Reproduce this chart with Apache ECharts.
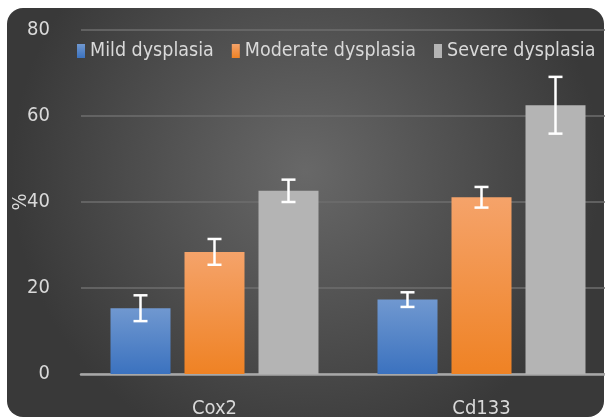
<!DOCTYPE html>
<html>
<head>
<meta charset="utf-8">
<script src="https://cdn.jsdelivr.net/npm/echarts@6/dist/echarts.min.js"></script>
<style>
  html, body { margin: 0; padding: 0; background: #fff; }
  #chart { width: 605px; height: 419px; }
</style>
</head>
<body>
<div id="chart"></div>
<script>
const categories = ['Cox2', 'Cd133']
const seriesNames = ['Mild dysplasia', 'Moderate dysplasia', 'Severe dysplasia']
const mildValues = [15.3, 17.3]
const moderateValues = [28.4, 41.1]
const severeValues = [42.6, 62.5]
const mildErrors = [3.0, 1.7]
const moderateErrors = [3.0, 2.4]
const severeErrors = [2.6, 6.6]
const yTicks = [0, 20, 40, 60, 80]

const FONT = "'Liberation Sans Narrow', 'DejaVu Sans Condensed', 'Open Sans', sans-serif"
const BAR_W = 60
const BAR_GAP = 14

const chart = echarts.init(document.getElementById('chart'))

function vgrad(top, bottom) {
  return new echarts.graphic.LinearGradient(0, 0, 0, 1, [
    { offset: 0, color: top },
    { offset: 1, color: bottom },
  ])
}

function errorSeries(values, errors, idx) {
  return {
    type: 'custom',
    z: 10,
    silent: true,
    data: values.map((v, i) => [i, v - errors[i], v + errors[i]]),
    renderItem(params, api) {
      const off = (idx - 1) * (BAR_W + BAR_GAP)
      const lo = api.coord([api.value(0), api.value(1)])
      const hi = api.coord([api.value(0), api.value(2)])
      const x = lo[0] + off
      const cap = 7
      const style = { stroke: '#ffffff', lineWidth: 2.5 }
      return {
        type: 'group',
        children: [
          { type: 'line', shape: { x1: x, y1: lo[1], x2: x, y2: hi[1] }, style },
          { type: 'line', shape: { x1: x - cap, y1: lo[1], x2: x + cap, y2: lo[1] }, style },
          { type: 'line', shape: { x1: x - cap, y1: hi[1], x2: x + cap, y2: hi[1] }, style },
        ],
      }
    },
  }
}

chart.setOption({
  backgroundColor: '#ffffff',
  animation: false,
  textStyle: { fontFamily: FONT },
  graphic: [
    {
      type: 'rect',
      z: -10,
      shape: { x: 7, y: 8, width: 597, height: 409, r: 16 },
      style: {
        fill: new echarts.graphic.RadialGradient(0.5, 0.4, 0.72, [
          { offset: 0, color: '#686868' },
          { offset: 1, color: '#393939' },
        ]),
      },
    },
  ],
  legend: {
    top: 36,
    left: 72,
    width: 560,
    itemWidth: 8,
    itemHeight: 14,
    itemGap: 18,
    icon: 'rect',
    textStyle: { color: '#d9d9d9', fontSize: 19.5, fontFamily: FONT },
    data: seriesNames,
  },
  grid: { left: 81, top: 30, width: 534, height: 344, outerBoundsMode: 'none' },
  xAxis: {
    type: 'category',
    data: categories,
    axisLine: { lineStyle: { color: '#a8a8a8', width: 2.5 } },
    axisTick: { show: false },
    axisLabel: { color: '#d9d9d9', fontSize: 20, margin: 25 },
  },
  yAxis: {
    type: 'value',
    min: yTicks[0],
    max: yTicks[yTicks.length - 1],
    interval: 20,
    name: '%',
    nameLocation: 'middle',
    nameRotate: 90,
    nameGap: 50,
    nameMoveOverlap: false,
    nameTextStyle: { color: '#d9d9d9', fontSize: 20 },
    axisLine: { show: false },
    axisTick: { show: false },
    axisLabel: { color: '#d9d9d9', fontSize: 20, margin: 31 },
    splitLine: { lineStyle: { color: '#6e6e6e', width: 1.5 } },
  },
  series: [
    {
      name: seriesNames[0],
      type: 'bar',
      barWidth: BAR_W,
      barGap: (BAR_GAP / BAR_W * 100) + '%',
      data: mildValues,
      itemStyle: { color: vgrad('#7098d0', '#3b72bf') },
    },
    {
      name: seriesNames[1],
      type: 'bar',
      barWidth: BAR_W,
      data: moderateValues,
      itemStyle: { color: vgrad('#f5a36a', '#ef8224') },
    },
    {
      name: seriesNames[2],
      type: 'bar',
      barWidth: BAR_W,
      data: severeValues,
      itemStyle: { color: '#b4b4b4' },
    },
    errorSeries(mildValues, mildErrors, 0),
    errorSeries(moderateValues, moderateErrors, 1),
    errorSeries(severeValues, severeErrors, 2),
  ],
})
</script>
</body>
</html>
